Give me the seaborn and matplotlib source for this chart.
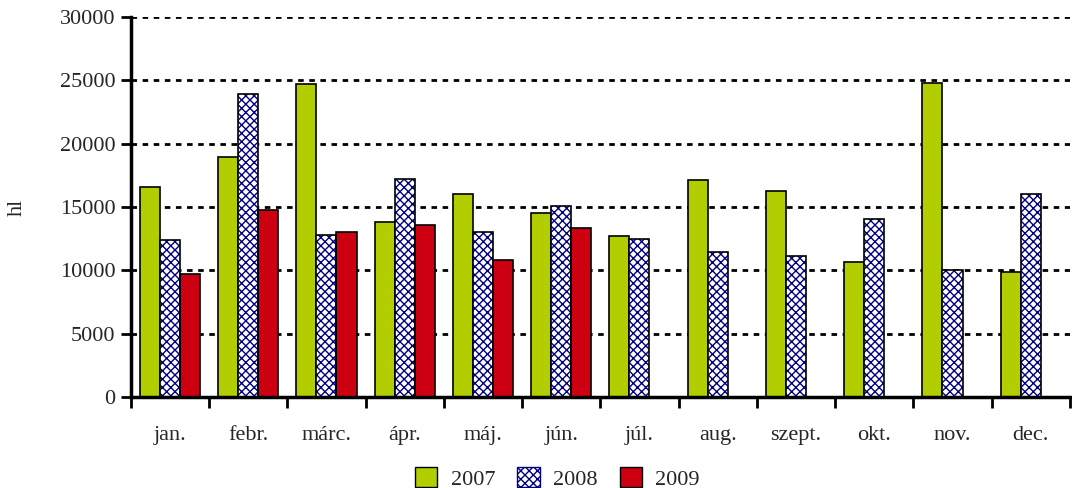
import pandas as pd
import numpy as np
import seaborn as sns
import matplotlib.pyplot as plt
from matplotlib.patches import Patch, Rectangle

months = ['jan.', 'febr.', 'márc.', 'ápr.', 'máj.', 'jún.', 'júl.', 'aug.', 'szept.', 'okt.', 'nov.', 'dec.']
v2007 = [16600, 18950, 24700, 13800, 16000, 14500, 12700, 17150, 16250, 10650, 24800, 9850]
v2008 = [12400, 23900, 12800, 17200, 13000, 15100, 12450, 11450, 11150, 14050, 10000, 16000]
v2009 = [9700, 14750, 13000, 13550, 10800, 13350, np.nan, np.nan, np.nan, np.nan, np.nan, np.nan]
years = ['2007', '2008', '2009']

# long format for seaborn
df = pd.DataFrame({'month': months * 3,
                   'year': np.repeat(years, len(months)),
                   'hl': v2007 + v2008 + v2009})

sns.set_style('white')
plt.rcParams['font.family'] = ['Liberation Serif', 'DejaVu Serif']
plt.rcParams['hatch.linewidth'] = 1.0

colors = {'2007': '#b2cd00', '2008': '#ffffff', '2009': '#cc0010'}

fig = plt.figure(figsize=(10.72, 4.88), dpi=100)
ax = fig.add_axes([0.122, 0.1865, 0.876, 0.7785])

sns.barplot(data=df, x='month', y='hl', hue='year', order=months, hue_order=years,
            palette=colors, saturation=1, width=0.77, edgecolor='black', linewidth=1.2,
            legend=False, ax=ax)

# 2008 bars: white with navy cross-hatch, black outline on top
for bar in ax.containers[1]:
    bar.set_hatch('xxxx')
    bar.set_edgecolor('#000080')
    bar.set_linewidth(0)
    ax.add_patch(Rectangle(bar.get_xy(), bar.get_width(), bar.get_height(),
                           fill=False, edgecolor='black', linewidth=1.2, zorder=bar.get_zorder()))

ax.set_ylim(0, 30000)
ax.set_xlim(-0.5, 11.5)
ax.set_yticks(range(0, 30001, 5000))
ax.set_yticklabels([str(v) for v in range(0, 30001, 5000)], fontsize=16)
ax.set_xticks(range(12))
ax.set_xticklabels(months, fontsize=16)
ax.set_xticks(np.arange(-0.5, 12, 1), minor=True)
ax.tick_params(axis='x', which='major', bottom=False, length=0, pad=21)
ax.tick_params(axis='x', which='minor', bottom=True, length=8, width=2, direction='out', color='black')
ax.tick_params(axis='y', left=True, length=7, width=2, direction='out', color='black', pad=4)
ax.set_xlabel('')
ax.set_ylabel('hl', fontsize=16, labelpad=24)

for y in range(5000, 30001, 5000):
    ax.axhline(y, color='black', linestyle=(0, (2, 2)), linewidth=2, zorder=0)
ax.set_axisbelow(True)

for side in ['top', 'right']:
    ax.spines[side].set_visible(False)
for side in ['left', 'bottom']:
    ax.spines[side].set_linewidth(2.5)
    ax.spines[side].set_color('black')

handles = [Patch(facecolor=colors['2007'], edgecolor='black'),
           Patch(facecolor='white', edgecolor='#000080', hatch='xxxx'),
           Patch(facecolor=colors['2009'], edgecolor='black')]
fig.legend(handles, years, loc='lower center', bbox_to_anchor=(0.52, -0.045), ncol=3,
           frameon=False, fontsize=16, handlelength=1.0, handleheight=1.0,
           handletextpad=0.6, columnspacing=1.0)

fig.savefig('out.png', dpi=100)
